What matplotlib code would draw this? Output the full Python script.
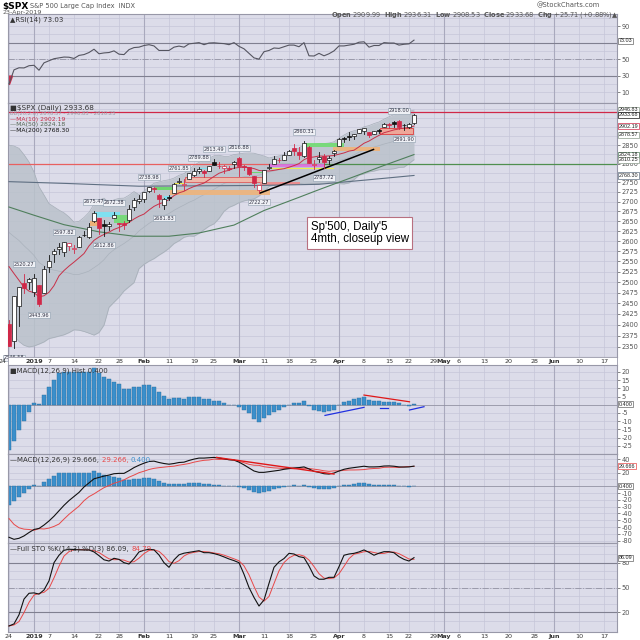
import numpy as np
import pandas as pd
import matplotlib
matplotlib.use("Agg")
import matplotlib.pyplot as plt
import matplotlib.transforms as mtrans
from matplotlib.patches import Rectangle
from matplotlib.ticker import NullLocator, NullFormatter

# S&P 500 daily bars, 24-Dec-2018 .. 23-Apr-2019 (x = trading-day index 0..81)
opens = [2400.56, 2363.12, 2442.50, 2498.77, 2498.94, 2476.96, 2491.92, 2474.33, 2535.61, 2568.11,
         2580.00, 2573.51, 2588.11, 2580.31, 2585.10, 2614.75, 2609.28, 2651.27, 2657.88, 2643.48,
         2638.84, 2657.44, 2644.97, 2644.89, 2653.62, 2685.49, 2702.32, 2706.49, 2728.34, 2735.05,
         2717.53, 2692.36, 2712.40, 2722.61, 2750.30, 2743.50, 2760.24, 2769.28, 2779.05, 2780.67,
         2780.67, 2804.35, 2792.36, 2787.50, 2788.11, 2798.22, 2814.37, 2794.41, 2790.27, 2766.53,
         2730.79, 2747.61, 2787.34, 2799.78, 2810.38, 2810.79, 2822.61, 2840.76, 2831.34, 2819.72,
         2844.52, 2796.01, 2812.66, 2819.72, 2809.40, 2828.27, 2848.63, 2868.24, 2876.09, 2873.99,
         2884.16, 2888.46, 2886.58, 2881.37, 2891.92, 2900.86, 2908.32, 2912.26, 2916.04, 2904.81,
         2898.78, 2909.99]
highs = [2410.34, 2467.76, 2489.10, 2520.27, 2509.24, 2519.49, 2493.14, 2538.07, 2566.16, 2579.82,
         2595.32, 2597.82, 2596.27, 2589.32, 2613.08, 2625.76, 2645.06, 2675.47, 2657.88, 2653.19,
         2647.20, 2672.38, 2644.97, 2650.93, 2690.44, 2708.95, 2716.66, 2724.99, 2738.98, 2738.08,
         2719.32, 2708.07, 2718.05, 2748.19, 2761.85, 2757.90, 2775.66, 2787.33, 2789.88, 2781.58,
         2794.20, 2813.49, 2803.12, 2795.76, 2793.73, 2808.02, 2816.88, 2796.44, 2790.27, 2767.25,
         2744.13, 2784.00, 2798.32, 2821.24, 2815.00, 2830.73, 2835.41, 2852.42, 2843.54, 2860.31,
         2846.16, 2809.79, 2829.87, 2825.56, 2819.71, 2836.03, 2869.40, 2872.90, 2885.25, 2881.28,
         2893.24, 2895.95, 2886.88, 2889.71, 2893.42, 2910.54, 2909.60, 2916.06, 2918.00, 2908.40,
         2909.51, 2936.31]
lows = [2351.10, 2346.58, 2397.94, 2472.89, 2482.82, 2467.47, 2443.96, 2474.33, 2524.56, 2547.56,
        2568.89, 2562.02, 2577.40, 2570.41, 2585.10, 2612.68, 2606.36, 2647.58, 2617.27, 2612.86,
        2627.01, 2657.33, 2624.06, 2631.05, 2648.34, 2678.65, 2696.88, 2698.75, 2724.03, 2724.15,
        2687.26, 2681.83, 2703.79, 2722.61, 2748.63, 2731.23, 2760.24, 2767.29, 2774.06, 2764.55,
        2779.11, 2794.99, 2789.47, 2775.13, 2782.51, 2787.38, 2767.66, 2782.97, 2768.69, 2739.09,
        2722.27, 2747.61, 2786.73, 2799.78, 2803.46, 2810.79, 2821.99, 2823.27, 2812.43, 2817.38,
        2800.47, 2785.02, 2803.99, 2787.72, 2798.77, 2819.23, 2848.63, 2858.75, 2865.17, 2867.14,
        2882.99, 2880.78, 2873.33, 2879.13, 2881.99, 2898.37, 2896.48, 2900.71, 2895.45, 2891.90,
        2896.35, 2908.53]
closes = [2351.10, 2467.70, 2488.83, 2485.74, 2506.85, 2510.03, 2447.89, 2531.94, 2549.69, 2574.41,
          2584.96, 2596.64, 2596.26, 2582.61, 2610.30, 2616.10, 2635.96, 2670.71, 2632.90, 2638.70,
          2642.33, 2664.76, 2643.85, 2640.00, 2681.05, 2704.10, 2706.53, 2724.87, 2737.70, 2731.61,
          2706.05, 2707.88, 2709.80, 2744.73, 2753.03, 2745.73, 2775.60, 2779.76, 2784.70, 2774.88,
          2792.67, 2796.11, 2793.90, 2792.38, 2784.49, 2803.69, 2792.81, 2789.65, 2771.45, 2748.93,
          2743.07, 2783.30, 2791.52, 2810.92, 2808.48, 2822.48, 2832.94, 2832.57, 2824.23, 2854.88,
          2800.71, 2798.36, 2818.46, 2805.37, 2815.44, 2834.40, 2867.19, 2867.24, 2873.40, 2879.39,
          2892.74, 2895.77, 2878.20, 2888.21, 2888.32, 2907.41, 2905.58, 2907.06, 2900.45, 2905.03,
          2907.97, 2933.68]
# closes 26-Nov .. 21-Dec-2018, warm-up for MA(10) and BB(20)
pre_closes = [2673.45, 2682.17, 2743.79, 2737.80, 2760.17, 2790.37, 2700.06, 2695.95, 2633.08,
              2637.72, 2636.78, 2651.07, 2650.54, 2599.95, 2545.94, 2546.16, 2506.96, 2467.42, 2416.62]

ma50_idx = [0, 5, 11, 18, 25, 32, 38, 45, 51, 58, 62, 69, 75, 81]
ma50_val = [2686, 2665, 2641, 2623, 2612, 2612, 2620, 2640, 2677, 2711, 2731, 2765, 2795, 2824.18]
ma200_idx = [0, 12, 26, 38, 50, 62, 72, 81]
ma200_val = [2752, 2747, 2740, 2741, 2742, 2745, 2757, 2768.30]

rsi = [19.9, 37, 39.5, 39.3, 42, 42.5, 36.5, 45.5, 48, 50.5,
       51.5, 52.5, 52.3, 50.8, 54.5, 55.5, 58, 62, 56.5, 57.5,
       58, 60, 56, 55.5, 61.5, 64, 64.5, 66.5, 67.5, 66,
       60.5, 60.5, 60.5, 64.5, 65.8, 64.5, 68.5, 69.2, 70, 67.5,
       69.5, 69.8, 69.2, 68.8, 67.5, 70, 65.5, 62.5, 57, 51.5,
       50, 59, 60.5, 63.5, 63, 65, 67, 67, 65, 70,
       54, 53.8, 57, 54, 56.5, 60, 66, 66, 67, 68,
       70.5, 71, 64.5, 66.5, 66.5, 70, 69.5, 69.5, 67, 68,
       68.5, 73.03]
macd = [-75, -78, -76.5, -73, -68, -63.5, -62, -57, -51, -44,
        -36, -28, -21, -15, -9, -1, 5, 11, 13, 15,
        16.5, 18.5, 19, 19, 23, 27.5, 31, 34, 36.5, 37,
        35, 33.5, 32.5, 33.5, 35, 35.5, 38, 40, 41.5, 41.5,
        42, 42.5, 41.5, 40.5, 39, 38.5, 35.5, 31.5, 27, 22.5,
        20.5, 20.5, 21.5, 22.5, 23.5, 25, 26, 27, 27.5, 28.5,
        25.5, 22, 20.5, 18.5, 18, 19.5, 22.5, 25, 26.5, 27.5,
        28.5, 29.5, 28.5, 28.5, 28.8, 29.8, 30, 29.5, 28.5, 28.3,
        28.5, 29.666]
macd_hist = [-27.6, -22, -15.5, -10, -4.5, 1.2, 0.3, 5.8, 10.5, 15,
             19.5, 20.2, 20.2, 20.2, 20.2, 20.2, 20.2, 22.2, 19.5, 17,
             15.4, 14, 12.4, 9.6, 9.6, 11, 11, 11.8, 11.8, 10.6,
             7.6, 5.3, 3.5, 3.9, 3.9, 3.3, 4.5, 4.5, 4.5, 3.3,
             3.3, 2.5, 2, 1, -0.3, -0.3, -1.2, -3.2, -5.3, -8.5,
             -10.3, -8.3, -6.3, -4.6, -3.2, -1.2, -0.1, 1.3, 0.9, 2,
             -0.7, -3.2, -3.7, -4.3, -4, -3.2, -0.1, 1.5, 2.5, 3.5,
             4.3, 4.9, 2.9, 2.3, 2.3, 1.9, 1.9, 1.5, 0.9, -0.3,
             -0.6, 0.4]
sto_k = [3.5, 6, 17, 36, 43, 43.5, 42, 47, 58, 80,
         89, 95, 96.2, 96, 95.5, 95.4, 95.4, 93, 88.5, 83.5,
         82, 85.3, 84, 80, 78.4, 85, 93, 95, 96.2, 95.5,
         89.3, 80, 74.4, 83.4, 89.5, 91.5, 92.5, 93.5, 94.5, 92.1,
         92.1, 91, 89.3, 87, 84.5, 82.5, 80, 66, 50, 38,
         27.6, 34.9, 55, 74.4, 81, 85, 91.3, 90.5, 87.3, 86.1,
         76, 64, 60, 60, 62.3, 62.3, 75.2, 89, 90.5, 91.3,
         93, 95.4, 92.5, 89, 91.5, 93.3, 93.3, 92, 87.3, 84,
         82, 86.09]

# pivot price flags
pivot_idx = [1, 3, 6, 11, 17, 19, 21, 28, 31, 34, 38, 41, 46, 50, 59, 63, 78, 79]
pivot_px = [2346.58, 2520.27, 2443.96, 2597.82, 2675.47, 2612.86, 2672.38, 2738.98, 2681.83,
            2761.85, 2789.88, 2813.49, 2816.88, 2722.27, 2860.31, 2787.72, 2918.00, 2891.90]
pivot_kind = ["L", "H", "L", "H", "H", "L", "H", "H", "L", "H", "H", "H", "H", "L", "H", "L", "H", "L"]

# hand-drawn support/resistance zones: start, end, low, high
zone_x0 = [16.2, 17.2, 20.9, 29.2, 30.9, 32.2, 35.2, 50.2, 52.0, 52.0, 59.0, 64.8, 74.2, 38.0, 33.0, 48.0]
zone_x1 = [18.2, 22.2, 24.2, 33.2, 32.2, 52.2, 51.2, 58.2, 63.0, 65.0, 67.0, 74.2, 80.8, 40.0, 35.0, 51.0]
zone_lo = [2637, 2660, 2645, 2730, 2702, 2717, 2750, 2743, 2792, 2786, 2845, 2834, 2881, 2785, 2746, 2774]
zone_hi = [2651, 2672, 2665, 2739, 2715, 2731, 2765, 2751, 2800, 2789, 2855, 2846, 2896, 2789, 2749, 2778]
zone_fc = ["#f2b070", "#78e4f4", "#72dc72", "#66d866", "#78e4f4", "#efb47a", "#f4b8a8", "#f08a8a",
           "#e070e0", "#f4f040", "#72dc72", "#efb47a", "#f4a494", "#78e4f4", "#f4f040", "#66d866"]
zone_ec = ["none", "none", "none", "none", "none", "none", "#e05050", "none",
           "none", "none", "none", "none", "#e03030", "none", "none", "none"]

tick_idx = [0, 5, 8, 13, 18, 22, 27, 32, 37, 41, 46, 51, 56, 61, 66, 71, 76, 80, 85, 87,
            90, 95, 100, 105, 109, 114, 119]
tick_lbl = ["24", "2019", "7", "14", "22", "28", "Feb", "11", "19", "25", "Mar", "11", "18", "25",
            "Apr", "8", "15", "22", "29", "May", "6", "13", "20", "28", "Jun", "10", "17"]
month_lbl = ["2019", "Feb", "Mar", "Apr", "May", "Jun"]

BG = "#dcdce9"
GRID = "#c6c6d8"
MGRID = "#a9a9bd"
SPINE = "#9898a8"
RED = "#d02848"
XMIN, XMAX = -0.2, 121.6

x = np.arange(len(closes))
allc = pd.Series(pre_closes + closes)
n0 = len(pre_closes)
ma10 = allc.rolling(10).mean().values[n0:]
bb_mid = allc.rolling(20).mean().values[n0:]
bb_sd = allc.rolling(20).std(ddof=0).values[n0:]
bb_up = bb_mid + 2 * bb_sd
bb_lo = bb_mid - 2 * bb_sd
macd = np.array(macd)
macd_hist = np.array(macd_hist)
macd_sig = macd - macd_hist
sto_d = pd.Series(sto_k).rolling(3, min_periods=1).mean().values
rsi = np.array(rsi)

fig = plt.figure(figsize=(6.4, 6.4), dpi=100)
fig.patch.set_facecolor("white")


def rect(top, bot):
    return [8 / 640, 1 - bot / 640, 609 / 640, (bot - top) / 640]


def panel(top, bot, ylim, grid_vals, lbl_vals):
    ax = fig.add_axes(rect(top, bot))
    ax.set_facecolor(BG)
    ax.set_xlim(XMIN, XMAX)
    ax.set_ylim(*ylim)
    for s in ax.spines.values():
        s.set_color(SPINE)
        s.set_linewidth(0.8)
    ax.set_xticks([])
    ax.yaxis.tick_right()
    ax.set_yticks(lbl_vals)
    ax.set_yticklabels([f"{v:g}" for v in lbl_vals])
    ax.tick_params(axis="y", labelsize=4.8, length=2, width=0.5, pad=1.2, colors="#555555")
    for v in grid_vals:
        ax.axhline(v, color=GRID, lw=0.5, zorder=0)
    for i, lb in zip(tick_idx, tick_lbl):
        strong = lb in month_lbl
        ax.axvline(i, color=MGRID if strong else GRID, lw=0.8 if strong else 0.5, zorder=0)
    return ax


def value_box(ax, y, s, ec, fc="white", color="#222222"):
    tr = mtrans.blended_transform_factory(ax.transAxes, ax.transData)
    ax.text(1.003, y, s, transform=tr, fontsize=3.9, family="Liberation Sans", va="center",
            ha="left", color=color,
            bbox=dict(boxstyle="square,pad=0.1", fc=fc, ec=ec, lw=0.5), clip_on=False, zorder=10)


def pieces(ax, x0, y0, parts, size):
    t = ax.text(x0, y0, parts[0][0], color=parts[0][1], transform=ax.transAxes,
                fontsize=size, va="top", ha="left", zorder=9)
    for s, c in parts[1:]:
        t = ax.annotate(s, xycoords=t, xy=(1, 0), va="bottom", color=c, fontsize=size, zorder=9)
    return t


# ---- header ----
fig.text(0.004, 0.997, "\\$SPX", fontsize=6.5, fontweight="bold", va="top")
fig.text(0.047, 0.996, "S&P 500 Large Cap Index  INDX", fontsize=4.8, color="#555555", va="top")
fig.text(0.004, 0.984, "23-Apr-2019", fontsize=4.6, color="#555555", va="top")
fig.text(0.938, 0.997, "@StockCharts.com", fontsize=4.8, color="#555555", va="top", ha="right")
fig.text(0.966, 0.984,
         r"$\mathbf{Open}$ 2909.99  $\mathbf{High}$ 2936.31  $\mathbf{Low}$ 2908.53  "
         r"$\mathbf{Close}$ 2933.68  $\mathbf{Chg}$ +25.71 (+0.88%)▲",
         fontsize=4.8, color="#555555", va="top", ha="right")

# ---- RSI ----
ax_rsi = panel(14, 103, (-3.2, 104.7), range(10, 101, 10), [10, 30, 50, 90])
ax_rsi.axhline(70, color="#808090", lw=0.8, zorder=1)
ax_rsi.axhline(30, color="#808090", lw=0.8, zorder=1)
ax_rsi.axhline(50, color="#9a9aaa", lw=0.7, ls="-.", zorder=1)
ax_rsi.fill_between(x, rsi, 30, where=rsi < 30, interpolate=True, color=RED, zorder=2)
ax_rsi.plot(x, rsi, color="#555560", lw=0.8, zorder=3)
ax_rsi.text(0.004, 0.975, "▲RSI(14) 73.03", transform=ax_rsi.transAxes, fontsize=5,
            va="top", color="#333333")
value_box(ax_rsi, 72.0, "73.03", "#666666")

# ---- price ----
ax = fig.add_axes(rect(103, 357))
ax.set_facecolor(BG)
ax.set_yscale("log")
ax.set_xlim(XMIN, XMAX)
ax.set_ylim(2327, 2967)
for s in ax.spines.values():
    s.set_color(SPINE)
    s.set_linewidth(0.8)
ax.set_xticks([])
ax.yaxis.tick_right()
price_ticks = list(range(2350, 2751, 25)) + [2800, 2850]
ax.set_yticks(price_ticks)
ax.set_yticklabels([str(v) for v in price_ticks])
ax.yaxis.set_minor_locator(NullLocator())
ax.yaxis.set_minor_formatter(NullFormatter())
ax.tick_params(axis="y", labelsize=4.8, length=2, width=0.5, pad=1.2, colors="#555555")
for v in range(2350, 2951, 25):
    ax.axhline(v, color=GRID, lw=0.5, zorder=0)
for i, lb in zip(tick_idx, tick_lbl):
    strong = lb in month_lbl
    ax.axvline(i, color=MGRID if strong else GRID, lw=0.8 if strong else 0.5, zorder=0)

ax.fill_between(x, bb_lo, bb_up, color="#bac2cb", alpha=0.85, lw=0, zorder=1)
ax.plot(x, bb_up, color="#a6aeb8", lw=0.5, zorder=1.2)
ax.plot(x, bb_lo, color="#a6aeb8", lw=0.5, zorder=1.2)
ax.plot(x, bb_mid, color="#aab2bc", lw=0.5, zorder=1.2)

ax.axhline(2940.91, color=RED, lw=0.9, zorder=2)
ax.plot([XMIN, 52], [2800, 2800], color="#e86060", lw=0.9, zorder=2)
ax.plot([52, XMAX], [2800, 2800], color="#4f8f4f", lw=0.9, zorder=2)

for x0, x1, lo, hi, fc, ec in zip(zone_x0, zone_x1, zone_lo, zone_hi, zone_fc, zone_ec):
    ax.add_patch(Rectangle((x0, lo), x1 - x0, hi - lo, fc=fc, ec=ec, lw=0.6, alpha=0.9, zorder=2.5))

ax.plot(ma200_idx, ma200_val, color="#5f6f82", lw=0.8, zorder=3)
ax.plot(ma50_idx, ma50_val, color="#4f7f5c", lw=0.8, zorder=3)
ax.plot(x, ma10, color="#c83048", lw=0.7, zorder=3)
ax.plot([50.2, 72.9], [2722, 2838], color="black", lw=1.1, zorder=3.5)

for i in range(len(closes)):
    o, h, l, c = opens[i], highs[i], lows[i], closes[i]
    prev = closes[i - 1] if i > 0 else pre_closes[-1]
    col = RED if c < prev else "#111111"
    ax.plot([i, i], [l, h], color=col, lw=0.6, zorder=4)
    lo_b, hi_b = min(o, c), max(o, c)
    if hi_b - lo_b < 0.8:
        hi_b = lo_b + 0.8
    fc = col if c < o else "white"
    ax.add_patch(Rectangle((i - 0.32, lo_b), 0.64, hi_b - lo_b, fc=fc, ec=col, lw=0.5, zorder=5))

for i, p, k in zip(pivot_idx, pivot_px, pivot_kind):
    off = 5 if k == "H" else -5
    ax.annotate(f"{p:.2f}", xy=(i, p), xytext=(0, off), textcoords="offset points",
                ha="center", va="bottom" if k == "H" else "top", fontsize=3.6, color="#333344",
                bbox=dict(boxstyle="square,pad=0.1", fc="#eef0f5", ec="#8c9cac", lw=0.4), zorder=6)

ax.text(0.004, 0.995, "■\\$SPX (Daily) 2933.68", transform=ax.transAxes, fontsize=5.2,
        va="top", color="#333333", zorder=9)
ax.text(0.004, 0.968, "BB(20,2.0) 2878.57 - 2946.83 - 2810.25", transform=ax.transAxes,
        fontsize=3.8, va="top", color="#9a9aa8", zorder=9)
ax.text(0.004, 0.946, "—MA(10) 2902.19", transform=ax.transAxes, fontsize=4.4, va="top",
        color="#c83048", zorder=9)
ax.text(0.004, 0.924, "—MA(50) 2824.18", transform=ax.transAxes, fontsize=4.4, va="top",
        color="#556655", zorder=9)
ax.text(0.004, 0.902, "—MA(200) 2768.30", transform=ax.transAxes, fontsize=4.4, va="top",
        color="#111111", zorder=9)

ax.text(0.497, 0.537, "Sp'500, Daily'5\n4mth, closeup view", transform=ax.transAxes,
        family="Liberation Sans", fontsize=8.3, va="top", ha="left", linespacing=1.05,
        bbox=dict(boxstyle="square,pad=0.3", fc="white", ec="#b87080", lw=0.8), zorder=9)

value_box(ax, 2947.5, "2946.83", "#8a9a8a")
value_box(ax, 2933.68, "2933.68", "#111111")
value_box(ax, 2902.19, "2902.19", RED)
value_box(ax, 2878.57, "2878.57", "#8a9a8a")
value_box(ax, 2824.18, "2824.18", "#4f7f5c")
value_box(ax, 2810.25, "2810.25", "#8a9a8a")
value_box(ax, 2768.30, "2768.30", "#5f6f82")

# ---- date strip ----
ax_d = fig.add_axes(rect(357, 365))
ax_d.set_xlim(XMIN, XMAX)
ax_d.set_ylim(0, 1)
ax_d.set_xticks([])
ax_d.set_yticks([])
for s in ax_d.spines.values():
    s.set_color(SPINE)
    s.set_linewidth(0.6)
for i, lb in zip(tick_idx, tick_lbl):
    ax_d.text(i - 1.2 if i == 0 else i, 0.45, lb, ha="center", va="center", fontsize=4.6,
              fontweight="bold" if lb in month_lbl else "normal", color="#333333")

# ---- MACD histogram ----
ax_h = panel(365, 454, (-30.0, 24.2), range(-25, 21, 5), [-25, -20, -15, -10, -5, 5, 10, 15, 20])
ax_h.axhline(0, color="#8a8a9a", lw=0.5, zorder=1)
ax_h.bar(x, macd_hist, width=0.72, color="#3b8fcb", edgecolor="#2b6e9e", lw=0.3, zorder=2)
ax_h.plot([71, 80.1], [5.9, 1.8], color="#e01818", lw=0.9, zorder=3)
ax_h.plot([63.2, 71], [-6.5, -1.6], color="#2030e0", lw=0.9, zorder=3)
ax_h.plot([80.1, 83], [-3.2, -1.2], color="#2030e0", lw=0.9, zorder=3)
ax_h.plot([74.2, 75.8], [-1.8, -1.8], color="#2030e0", lw=0.9, zorder=3)
ax_h.text(0.004, 0.975, "■MACD(12,26,9) Hist 0.400", transform=ax_h.transAxes, fontsize=5,
          va="top", color="#333333")
value_box(ax_h, 0.4, "0.400", "#666666")

# ---- MACD ----
ax_m = panel(454, 543, (-83.4, 47.5), range(-80, 41, 10),
             [-80, -70, -60, -50, -40, -30, -20, -10, 20, 40])
ax_m.axhline(0, color="#8a8a9a", lw=0.5, zorder=1)
ax_m.bar(x, macd_hist, width=0.72, color="#3b8fcb", edgecolor="#2b6e9e", lw=0.3, zorder=2)
ax_m.plot(x, macd_sig, color="#e84848", lw=0.7, zorder=3)
ax_m.plot(x, macd, color="#111111", lw=0.8, zorder=4)
ax_m.plot([41.5, 65], [42.5, 18], color="#e01818", lw=1.0, zorder=4)
pieces(ax_m, 0.004, 0.975, [("—MACD(12,26,9) 29.666, ", "#333333"), ("29.266, ", "#e84848"),
                             ("0.400", "#3b8fcb")], 5)
value_box(ax_m, 29.666, "29.666", "#e84848")
value_box(ax_m, 0.4, "0.400", "#666666")

# ---- Full STO ----
ax_s = panel(543, 632, (-3.8, 103.8), range(10, 101, 10), [20, 50, 80])
ax_s.axhline(80, color="#808090", lw=0.8, zorder=1)
ax_s.axhline(20, color="#808090", lw=0.8, zorder=1)
ax_s.axhline(50, color="#9a9aaa", lw=0.7, ls="-.", zorder=1)
ax_s.plot(x, sto_d, color="#e84848", lw=0.7, zorder=3)
ax_s.plot(x, sto_k, color="#111111", lw=0.8, zorder=4)
pieces(ax_s, 0.004, 0.975, [("—Full STO %K(14,3) %D(3) 86.09, ", "#333333"),
                             ("84.79", "#e84848")], 5)
value_box(ax_s, 86.09, "86.09", "#666666")
ax_s.set_xticks(tick_idx)
ax_s.set_xticklabels(tick_lbl)
ax_s.tick_params(axis="x", labelsize=4.6, length=0, pad=1.5, colors="#333333")
for t in ax_s.get_xticklabels():
    if t.get_text() in month_lbl:
        t.set_fontweight("bold")

fig.savefig("out.png", dpi=100, facecolor="white")
